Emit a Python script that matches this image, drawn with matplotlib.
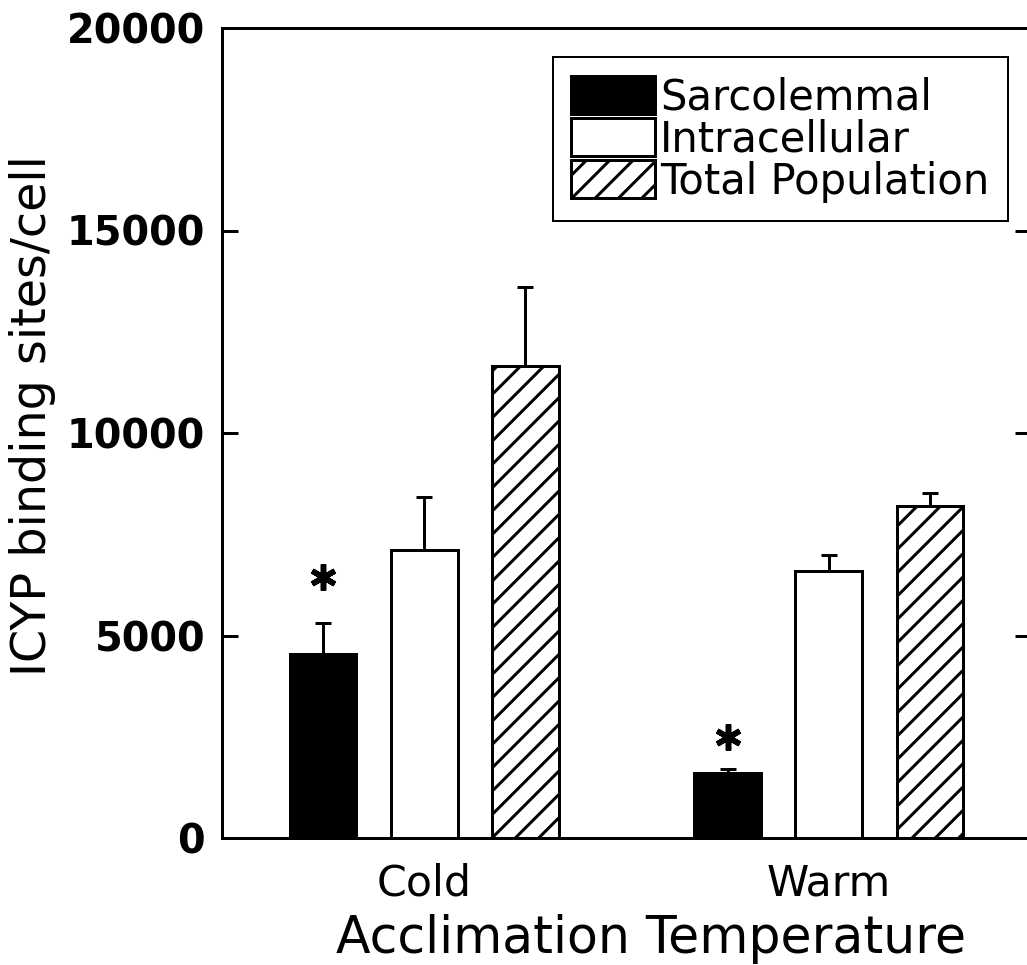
import numpy as np
import matplotlib
matplotlib.use("Agg")
from matplotlib import pyplot as plt

# binding sites per cell, mean and upper SE
groups = ["Cold", "Warm"]
series = ["Sarcolemmal", "Intracellular", "Total Population"]
sarcolemmal = [4550, 1600]
sarcolemmal_err = [750, 100]
intracellular = [7100, 6600]
intracellular_err = [1320, 400]
total = [11650, 8200]
total_err = [1950, 320]
# significance marks sit over the sarcolemmal bars
star_y = [6450, 2500]

DPI = 140
PX = 72.0 / DPI  # points per pixel

plt.rcParams["font.family"] = ["DejaVu Sans"]
plt.rcParams["hatch.linewidth"] = 3 * PX
plt.rcParams["hatch.color"] = "black"


def plot_binding_sites():
    fig = plt.figure(figsize=(1027 / DPI, 965 / DPI), dpi=DPI)
    ax = fig.add_axes([222 / 1027, 127 / 965, 809 / 1027, 810 / 965])

    centers = np.array([1.0, 3.0])
    width = 0.33
    values = [sarcolemmal, intracellular, total]
    errors = [sarcolemmal_err, intracellular_err, total_err]
    faces = ["black", "white", "white"]
    hatches = [None, None, "//"]
    offsets = [-0.5, 0.0, 0.5]

    for name, vals, errs, fc, h, off in zip(series, values, errors, faces, hatches, offsets):
        ax.bar(centers + off, vals, width, color=fc, edgecolor="black",
               linewidth=3 * PX, hatch=h, label=name, zorder=2)
        ax.errorbar(centers + off, vals, yerr=[np.zeros(len(errs)), errs],
                    fmt="none", ecolor="black", elinewidth=3 * PX,
                    capsize=8.5 * PX, capthick=3 * PX, zorder=1)

    ax.plot(centers - 0.5, star_y, linestyle="none", marker=(6, 2, 0),
            markersize=26 * PX, markeredgewidth=5.5 * PX, color="black")

    ax.set_xlim(0, 4)
    ax.set_ylim(0, 20000)
    ax.set_yticks([0, 5000, 10000, 15000, 20000])
    ax.set_xticks(centers)
    ax.set_xticklabels(groups)

    for side in ["left", "right", "top", "bottom"]:
        ax.spines[side].set_linewidth(3 * PX)
    ax.tick_params(axis="y", direction="in", length=16 * PX, width=3 * PX,
                   right=True, pad=17 * PX, labelsize=20.5)
    for lbl in ax.get_yticklabels():
        lbl.set_fontweight("bold")
    ax.tick_params(axis="x", length=0, pad=24 * PX, labelsize=22)

    ax.set_ylabel("ICYP binding sites/cell", fontsize=24.5)
    ax.yaxis.set_label_coords(-0.205, 0.522)
    ax.set_xlabel("Acclimation Temperature", fontsize=26)
    ax.xaxis.set_label_coords(0.53, -0.094)

    leg = ax.legend(loc="upper right", bbox_to_anchor=(0.9716, 0.9642),
                    fontsize=21.5, frameon=True, fancybox=False, framealpha=1,
                    handlelength=2.0, handleheight=1.02, labelspacing=0.0,
                    handletextpad=0.12, borderpad=0.45, borderaxespad=0.0)
    leg.get_frame().set_edgecolor("black")
    leg.get_frame().set_linewidth(2 * PX)

    fig.savefig("out.png", dpi=DPI)


if __name__ == "__main__":
    plot_binding_sites()
